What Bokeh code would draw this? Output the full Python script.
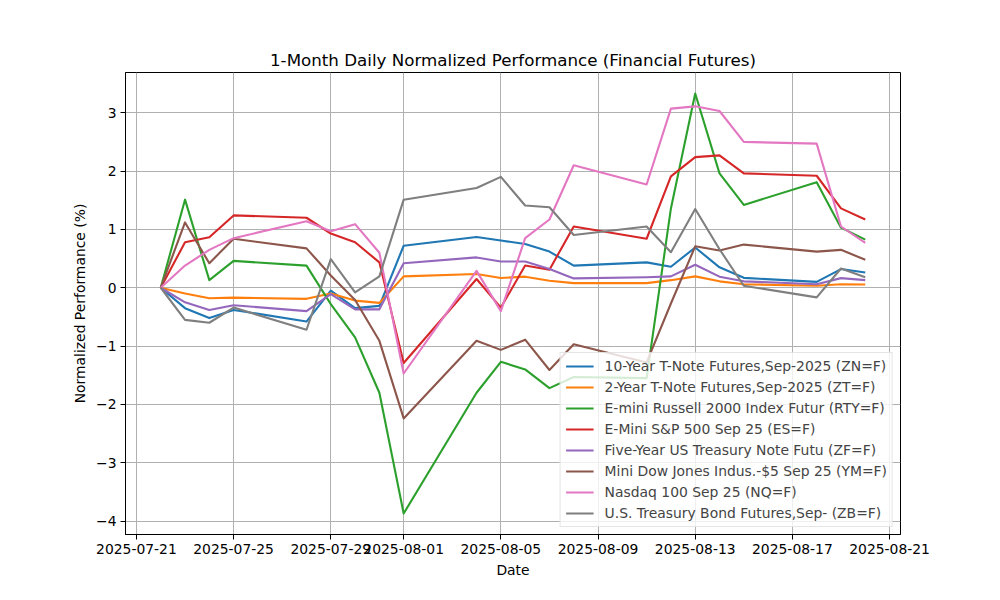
import pandas as pd
from bokeh.plotting import figure
from bokeh.models import Range1d, FixedTicker, DatetimeTickFormatter, CustomJSTickFormatter
from bokeh.embed import file_html
from bokeh.resources import INLINE

dates = ["2025-07-22", "2025-07-23", "2025-07-24", "2025-07-25", "2025-07-28", "2025-07-29",
         "2025-07-30", "2025-07-31", "2025-08-01", "2025-08-04", "2025-08-05", "2025-08-06",
         "2025-08-07", "2025-08-08", "2025-08-11", "2025-08-12", "2025-08-13", "2025-08-14",
         "2025-08-15", "2025-08-18", "2025-08-19", "2025-08-20"]

zn = [0, -0.35, -0.52, -0.38, -0.58, -0.05, -0.35, -0.31, 0.72, 0.87, 0.81, 0.75,
      0.62, 0.38, 0.435, 0.36, 0.69, 0.35, 0.17, 0.10, 0.32, 0.26]
zt = [0, -0.10, -0.18, -0.17, -0.19, -0.10, -0.22, -0.26, 0.195, 0.235, 0.167, 0.19,
      0.12, 0.08, 0.08, 0.13, 0.195, 0.11, 0.06, 0.035, 0.06, 0.055]
rty = [0, 1.51, 0.13, 0.46, 0.38, -0.28, -0.85, -1.80, -3.87, -1.80, -1.27, -1.40,
       -1.72, -1.53, -1.55, 1.36, 3.33, 1.96, 1.42, 1.81, 1.03, 0.825]
es = [0, 0.78, 0.865, 1.24, 1.20, 0.93, 0.78, 0.435, -1.29, 0.15, -0.34, 0.38,
      0.31, 1.05, 0.84, 1.91, 2.24, 2.27, 1.96, 1.92, 1.36, 1.17]
zf = [0, -0.25, -0.38, -0.30, -0.40, -0.11, -0.37, -0.37, 0.42, 0.52, 0.45, 0.45,
      0.32, 0.16, 0.18, 0.195, 0.395, 0.19, 0.11, 0.06, 0.165, 0.13]
ym = [0, 1.12, 0.42, 0.84, 0.675, 0.21, -0.21, -0.91, -2.24, -0.91, -1.065, -0.89,
      -1.41, -0.97, -1.28, -0.27, 0.71, 0.64, 0.74, 0.62, 0.65, 0.48]
nq = [0, 0.38, 0.65, 0.85, 1.14, 0.97, 1.09, 0.60, -1.47, 0.29, -0.40, 0.85,
      1.17, 2.10, 1.77, 3.07, 3.11, 3.03, 2.50, 2.47, 1.05, 0.77]
zb = [0, -0.55, -0.60, -0.34, -0.72, 0.49, -0.08, 0.195, 1.51, 1.71, 1.90, 1.41,
      1.38, 0.905, 1.05, 0.61, 1.35, 0.66, 0.035, -0.165, 0.33, 0.18]

names = ["10-Year T-Note Futures,Sep-2025 (ZN=F)",
         "2-Year T-Note Futures,Sep-2025 (ZT=F)",
         "E-mini Russell 2000 Index Futur (RTY=F)",
         "E-Mini S&P 500 Sep 25 (ES=F)",
         "Five-Year US Treasury Note Futu (ZF=F)",
         "Mini Dow Jones Indus.-$5 Sep 25 (YM=F)",
         "Nasdaq 100 Sep 25 (NQ=F)",
         "U.S. Treasury Bond Futures,Sep- (ZB=F)"]
series = [zn, zt, rty, es, zf, ym, nq, zb]
colors = ["#1f77b4", "#ff7f0e", "#2ca02c", "#d62728", "#9467bd", "#8c564b", "#e377c2", "#7f7f7f"]

tick_dates = ["2025-07-21", "2025-07-25", "2025-07-29", "2025-08-01", "2025-08-05",
              "2025-08-09", "2025-08-13", "2025-08-17", "2025-08-21"]
y_ticks = [-4, -3, -2, -1, 0, 1, 2, 3]

FONT = "DejaVu Sans"

x = pd.to_datetime(dates)
span = x[-1] - x[0]
x_start = x[0] - span * 0.05
x_end = x[-1] + span * 0.05
all_vals = [v for s in series for v in s]
vmin, vmax = min(all_vals), max(all_vals)
vpad = (vmax - vmin) * 0.05

p = figure(width=984, height=584, output_backend="svg", toolbar_location=None,
           x_axis_type="datetime",
           x_range=Range1d(x_start, x_end), y_range=Range1d(vmin - vpad, vmax + vpad),
           min_border_left=125, min_border_right=84, min_border_top=72, min_border_bottom=50)

p.title.text = "1-Month Daily Normalized Performance (Financial Futures)"
p.title.align = "center"
p.title.text_font = FONT
p.title.text_font_size = "16.7px"
p.title.text_font_style = "normal"
p.title.text_color = "black"
p.title.standoff = 6

for s, name, c in zip(series, names, colors):
    p.line(x, s, line_color=c, line_width=2.1, legend_label=name, line_join="round")

tick_ms = [pd.Timestamp(d).value // 10**6 for d in tick_dates]
p.xaxis.ticker = FixedTicker(ticks=tick_ms)
p.xaxis.formatter = DatetimeTickFormatter(days="%Y-%m-%d", months="%Y-%m-%d", years="%Y-%m-%d")
p.yaxis.ticker = FixedTicker(ticks=y_ticks)
p.yaxis.formatter = CustomJSTickFormatter(code="return (tick < 0 ? '\u2212' : '') + Math.abs(tick).toFixed(0);")

for ax in (p.xaxis, p.yaxis):
    ax.axis_line_color = "black"
    ax.major_tick_line_color = "black"
    ax.major_tick_out = 5
    ax.major_tick_in = 0
    ax.minor_tick_line_color = None
    ax.major_label_text_font = FONT
    ax.major_label_text_font_size = "13.9px"
    ax.major_label_text_color = "black"
    ax.major_label_standoff = 4
    ax.axis_label_text_font = FONT
    ax.axis_label_text_font_size = "13.9px"
    ax.axis_label_text_font_style = "normal"
    ax.axis_label_text_color = "black"
    ax.axis_label_standoff = 5

p.xaxis.axis_label = "Date"
p.yaxis.axis_label = "Normalized Performance (%)"

p.outline_line_color = "black"
p.outline_line_width = 1
p.xgrid.grid_line_color = "#b0b0b0"
p.ygrid.grid_line_color = "#b0b0b0"
p.xgrid.grid_line_width = 1
p.ygrid.grid_line_width = 1

leg = p.legend[0]
leg.location = "bottom_right"
leg.margin = 7
leg.padding = 5
leg.spacing = 5
leg.glyph_width = 28
leg.glyph_height = 16
leg.label_height = 16
leg.label_standoff = 11
leg.label_text_font = FONT
leg.label_text_font_size = "13.9px"
leg.border_line_color = "#cccccc"
leg.border_line_width = 1
leg.background_fill_alpha = 0.8

open("out.html", "w").write(file_html(p, INLINE))
